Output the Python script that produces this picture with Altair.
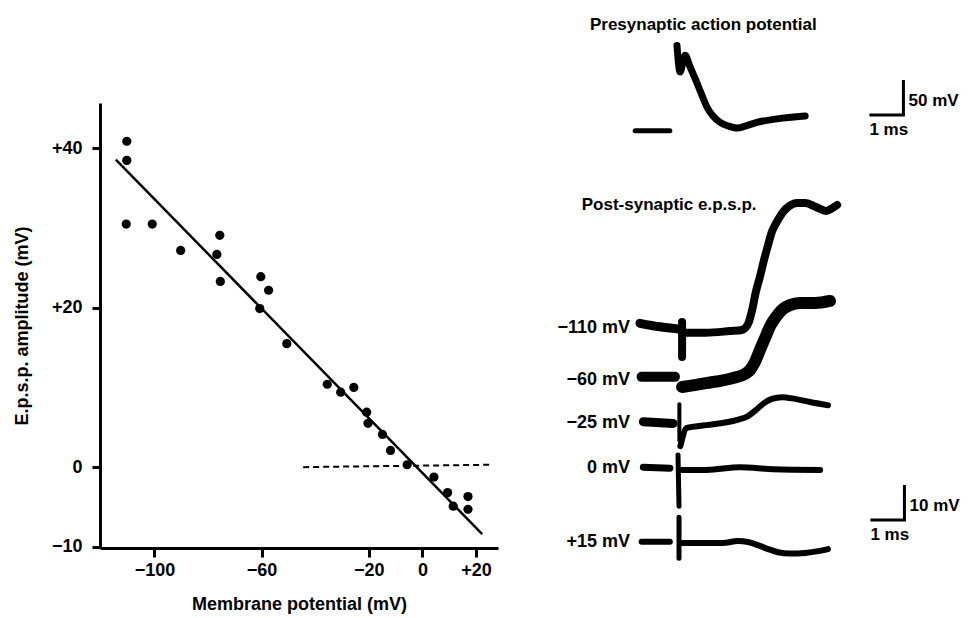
import altair as alt
import pandas as pd

# ---------------- Left panel: e.p.s.p. amplitude vs membrane potential ----------------
membrane_mv = [-110.3, -110.3, -110.5, -100.8, -90.2, -75.6, -76.7, -75.4, -60.3, -57.4,
               -60.7, -50.6, -35.5, -30.5, -25.6, -20.8, -20.3, -14.9, -11.9, -5.7,
               4.3, 9.4, 11.5, 17.0, 17.0]
epsp_mv = [40.9, 38.5, 30.5, 30.5, 27.2, 29.1, 26.7, 23.3, 23.9, 22.2,
           19.9, 15.5, 10.4, 9.4, 10.0, 6.9, 5.5, 4.1, 2.1, 0.3,
           -1.25, -3.2, -4.9, -3.7, -5.3]
fit_x = [-114.4, 22.3]
fit_y = [38.6, -8.4]
zero_x = [-44.5, 25.9]
zero_y = [0.0, 0.3]
x_ticks = [-100, -60, -20, 0, 20]
y_ticks = [-10, 0, 20, 40]

# ---------------- Right panel: traces (time in ms from stimulus, mV from holding level) ----------------
trace_names = ["pre", "m110", "m60", "m25", "z0", "p15"]
trace_labels = ["", "\u2212110 mV", "\u221260 mV", "\u221225 mV", "0 mV", "+15 mV"]

pre_t = [[-1.26, -0.24],
         [-0.03, 0.06, 0.21, 0.35, 0.56, 0.71, 0.85, 1.03, 1.24, 1.47, 1.74, 2.0, 2.32, 2.91, 3.74]]
pre_v = [[0, 0],
         [122, 84, 108, 92, 68, 50, 34, 21, 12, 7, 4, 7, 12, 17, 21]]

m110_t = [[-1.12, -0.53, 0.0], [0.12, 0.12],
          [0.10, 0.24, 0.82, 1.53, 1.88, 2.06, 2.18, 2.29, 2.41, 2.53, 2.65, 2.76, 2.91, 3.09,
           3.29, 3.50, 3.74, 3.97, 4.18, 4.35, 4.50, 4.68]]
m110_v = [[1.3, 0.3, -0.3], [1.7, -8.3],
          [-1.0, -1.4, -1.4, -0.9, -0.6, 1.1, 5.1, 10.3, 14.6, 19.4, 23.7, 27.4, 30.3, 33.1,
           34.9, 35.7, 35.7, 34.9, 34.0, 33.4, 34.0, 35.1]]

m60_t = [[-1.07, -0.09],
         [0.12, 0.82, 1.62, 1.97, 2.12, 2.26, 2.41, 2.56, 2.71, 2.88, 3.09, 3.29, 3.59, 4.03, 4.47]]
m60_v = [[0.9, 0.9],
         [-2.0, -0.9, 0.6, 1.7, 2.9, 5.1, 8.6, 12.0, 15.4, 18.0, 20.3, 21.4, 22.0, 22.0, 22.6]]

m25_t = [[-1.02, -0.14], [0.04, 0.04],
         [0.07, 0.26, 0.82, 1.74, 2.06, 2.29, 2.53, 2.76, 3.06, 3.44, 3.88, 4.41]]
m25_v = [[0.4, -0.1], [5.4, -4.9],
         [-6.6, -1.4, -0.6, 0.9, 2.0, 3.7, 5.7, 6.9, 7.4, 6.9, 6.0, 5.1]]

z0_t = [[-1.02, -0.24], [0.0, 0.03], [0.06, 0.21, 0.84, 1.82, 2.80, 4.18]]
z0_v = [[0.2, -0.1], [3.7, -11.0], [-0.6, -0.6, -0.6, 0.2, -0.4, -0.6]]

p15_t = [[-1.07, -0.24], [0.03, 0.03],
         [0.12, 1.32, 1.76, 2.06, 2.35, 2.65, 2.94, 3.29, 3.74, 4.12, 4.41]]
p15_v = [[0.1, 0.1], [7.1, -4.6],
         [-0.3, -0.3, 0.3, 0.0, -0.9, -2.0, -2.9, -3.3, -3.1, -2.6, -2.0]]

trace_t = [pre_t, m110_t, m60_t, m25_t, z0_t, p15_t]
trace_v = [pre_v, m110_v, m60_v, m25_v, z0_v, p15_v]

# ---------------- layout / style constants ----------------
FONT = "Liberation Sans"
WEIGHT = "bold"
BASE = [119.2, 62.9, 48.0, 35.7, 22.9, 1.7]      # vertical offset of each trace (display units)
GAIN = [0.2, 1, 1, 1, 1, 1]                      # display units per mV
WIDTHS = [[5, 7], [9, 8, 8], [10, 12], [9, 4, 6], [7, 5, 6], [6, 5, 6]]
LABEL_T = -1.41

rows = []
i = 0
for k, name in enumerate(trace_names):
    for s, (ts, vs) in enumerate(zip(trace_t[k], trace_v[k])):
        for t, v in zip(ts, vs):
            rows.append({"t": t, "u": BASE[k] + GAIN[k] * v, "key": f"{name}_{s}",
                         "w": WIDTHS[k][s], "i": i})
            i += 1
df_tr = pd.DataFrame(rows)

df_lab = pd.DataFrame({"t": [LABEL_T] * 5, "u": BASE[1:], "text": trace_labels[1:]})
df_titles = pd.DataFrame({"t": [-2.59, -2.83], "u": [149.4, 98.0],
                          "text": ["Presynaptic action potential", "Post-synaptic e.p.s.p."]})

# scale bars: 1 ms horizontally, 50 mV (pre gain) / 10 mV (post gain) vertically
bar_corner = [(6.63, 123.7, 50 * GAIN[0], "50 mV"), (6.66, 8.0, 10 * GAIN[1], "10 mV")]
bar_rows, bar_txt = [], []
for b, (tc, uc, hgt, lab) in enumerate(bar_corner):
    bar_rows += [{"t": tc - 1, "u": uc, "key": b, "i": 0},
                 {"t": tc, "u": uc, "key": b, "i": 1},
                 {"t": tc, "u": uc + hgt, "key": b, "i": 2}]
    bar_txt += [{"t": tc + 0.15, "u": uc + 4.0, "text": lab},
                {"t": tc - 1, "u": uc - 4.4, "text": "1 ms"}]
df_bar = pd.DataFrame(bar_rows)
df_bartxt = pd.DataFrame(bar_txt)

# ---------------- scales ----------------
xs = alt.Scale(domain=[-120.3, 28.2], range=[0, 398], nice=False, zero=False)
ys = alt.Scale(domain=[-10.15, 45.7], range=[535, 90], nice=False, zero=False)
ts_ = alt.Scale(domain=[-2, 6], range=[510, 782], nice=False, zero=False)
us_ = alt.Scale(domain=[0, 150], range=[535, 10], nice=False, zero=False)

xaxis = alt.Axis(values=x_ticks, title="Membrane potential (mV)", grid=False,
                 labelExpr="datum.value > 0 ? '+' + datum.label : datum.label",
                 tickSize=9, tickWidth=3, domainWidth=3, labelPadding=4, titlePadding=16,
                 labelFlush=False)
yaxis = alt.Axis(values=y_ticks, title="E.p.s.p. amplitude (mV)", grid=False,
                 labelExpr="datum.value > 0 ? '+' + datum.label : datum.label",
                 tickSize=8, tickWidth=3, domainWidth=3, labelPadding=10, titlePadding=20)

df_pts = pd.DataFrame({"mp": membrane_mv, "amp": epsp_mv})
df_fit = pd.DataFrame({"mp": fit_x, "amp": fit_y})
df_zero = pd.DataFrame({"mp": zero_x, "amp": zero_y})

X = alt.X("mp:Q", scale=xs, axis=xaxis)
Y = alt.Y("amp:Q", scale=ys, axis=yaxis)

points = alt.Chart(df_pts).mark_circle(size=85, color="black", opacity=1).encode(x=X, y=Y)
fit = alt.Chart(df_fit).mark_line(color="black", strokeWidth=2.5).encode(x=X, y=Y)
zero = alt.Chart(df_zero).mark_line(color="black", strokeWidth=2, strokeDash=[6, 4]).encode(x=X, y=Y)
left = alt.layer(points, fit, zero)

T = alt.X("t:Q", scale=ts_, axis=None)
U = alt.Y("u:Q", scale=us_, axis=None)

traces = alt.Chart(df_tr).mark_line(color="black", strokeCap="round", strokeJoin="round",
                                    interpolate="monotone").encode(
    x=T, y=U, detail="key:N", order="i:Q",
    strokeWidth=alt.StrokeWidth("w:Q", scale=None, legend=None))
labels = alt.Chart(df_lab).mark_text(align="right", baseline="middle", font=FONT, fontSize=18,
                                     fontWeight=WEIGHT, color="black").encode(x=T, y=U, text="text:N")
titles = alt.Chart(df_titles).mark_text(align="left", baseline="middle", font=FONT, fontSize=17,
                                        fontWeight=WEIGHT, color="black").encode(x=T, y=U, text="text:N")
bars = alt.Chart(df_bar).mark_line(color="black", strokeWidth=3).encode(
    x=T, y=U, detail="key:N", order="i:Q")
bartxt = alt.Chart(df_bartxt).mark_text(align="left", baseline="middle", font=FONT, fontSize=17,
                                        fontWeight=WEIGHT, color="black").encode(x=T, y=U, text="text:N")
right = alt.layer(traces, labels, titles, bars, bartxt)

chart = alt.layer(left, right).resolve_scale(x="independent", y="independent").properties(
    width=865, height=535,
    autosize=alt.AutoSizeParams(type="none"),
    padding={"left": 92, "top": 5, "right": 0, "bottom": 70},
).configure_view(stroke=None).configure_axis(
    domainColor="black", tickColor="black", labelColor="black", titleColor="black",
    labelFont=FONT, titleFont=FONT, labelFontSize=18, titleFontSize=18,
    labelFontWeight=WEIGHT, titleFontWeight=WEIGHT,
)

chart.save("out.html", embed_options={"renderer": "svg", "actions": False})
